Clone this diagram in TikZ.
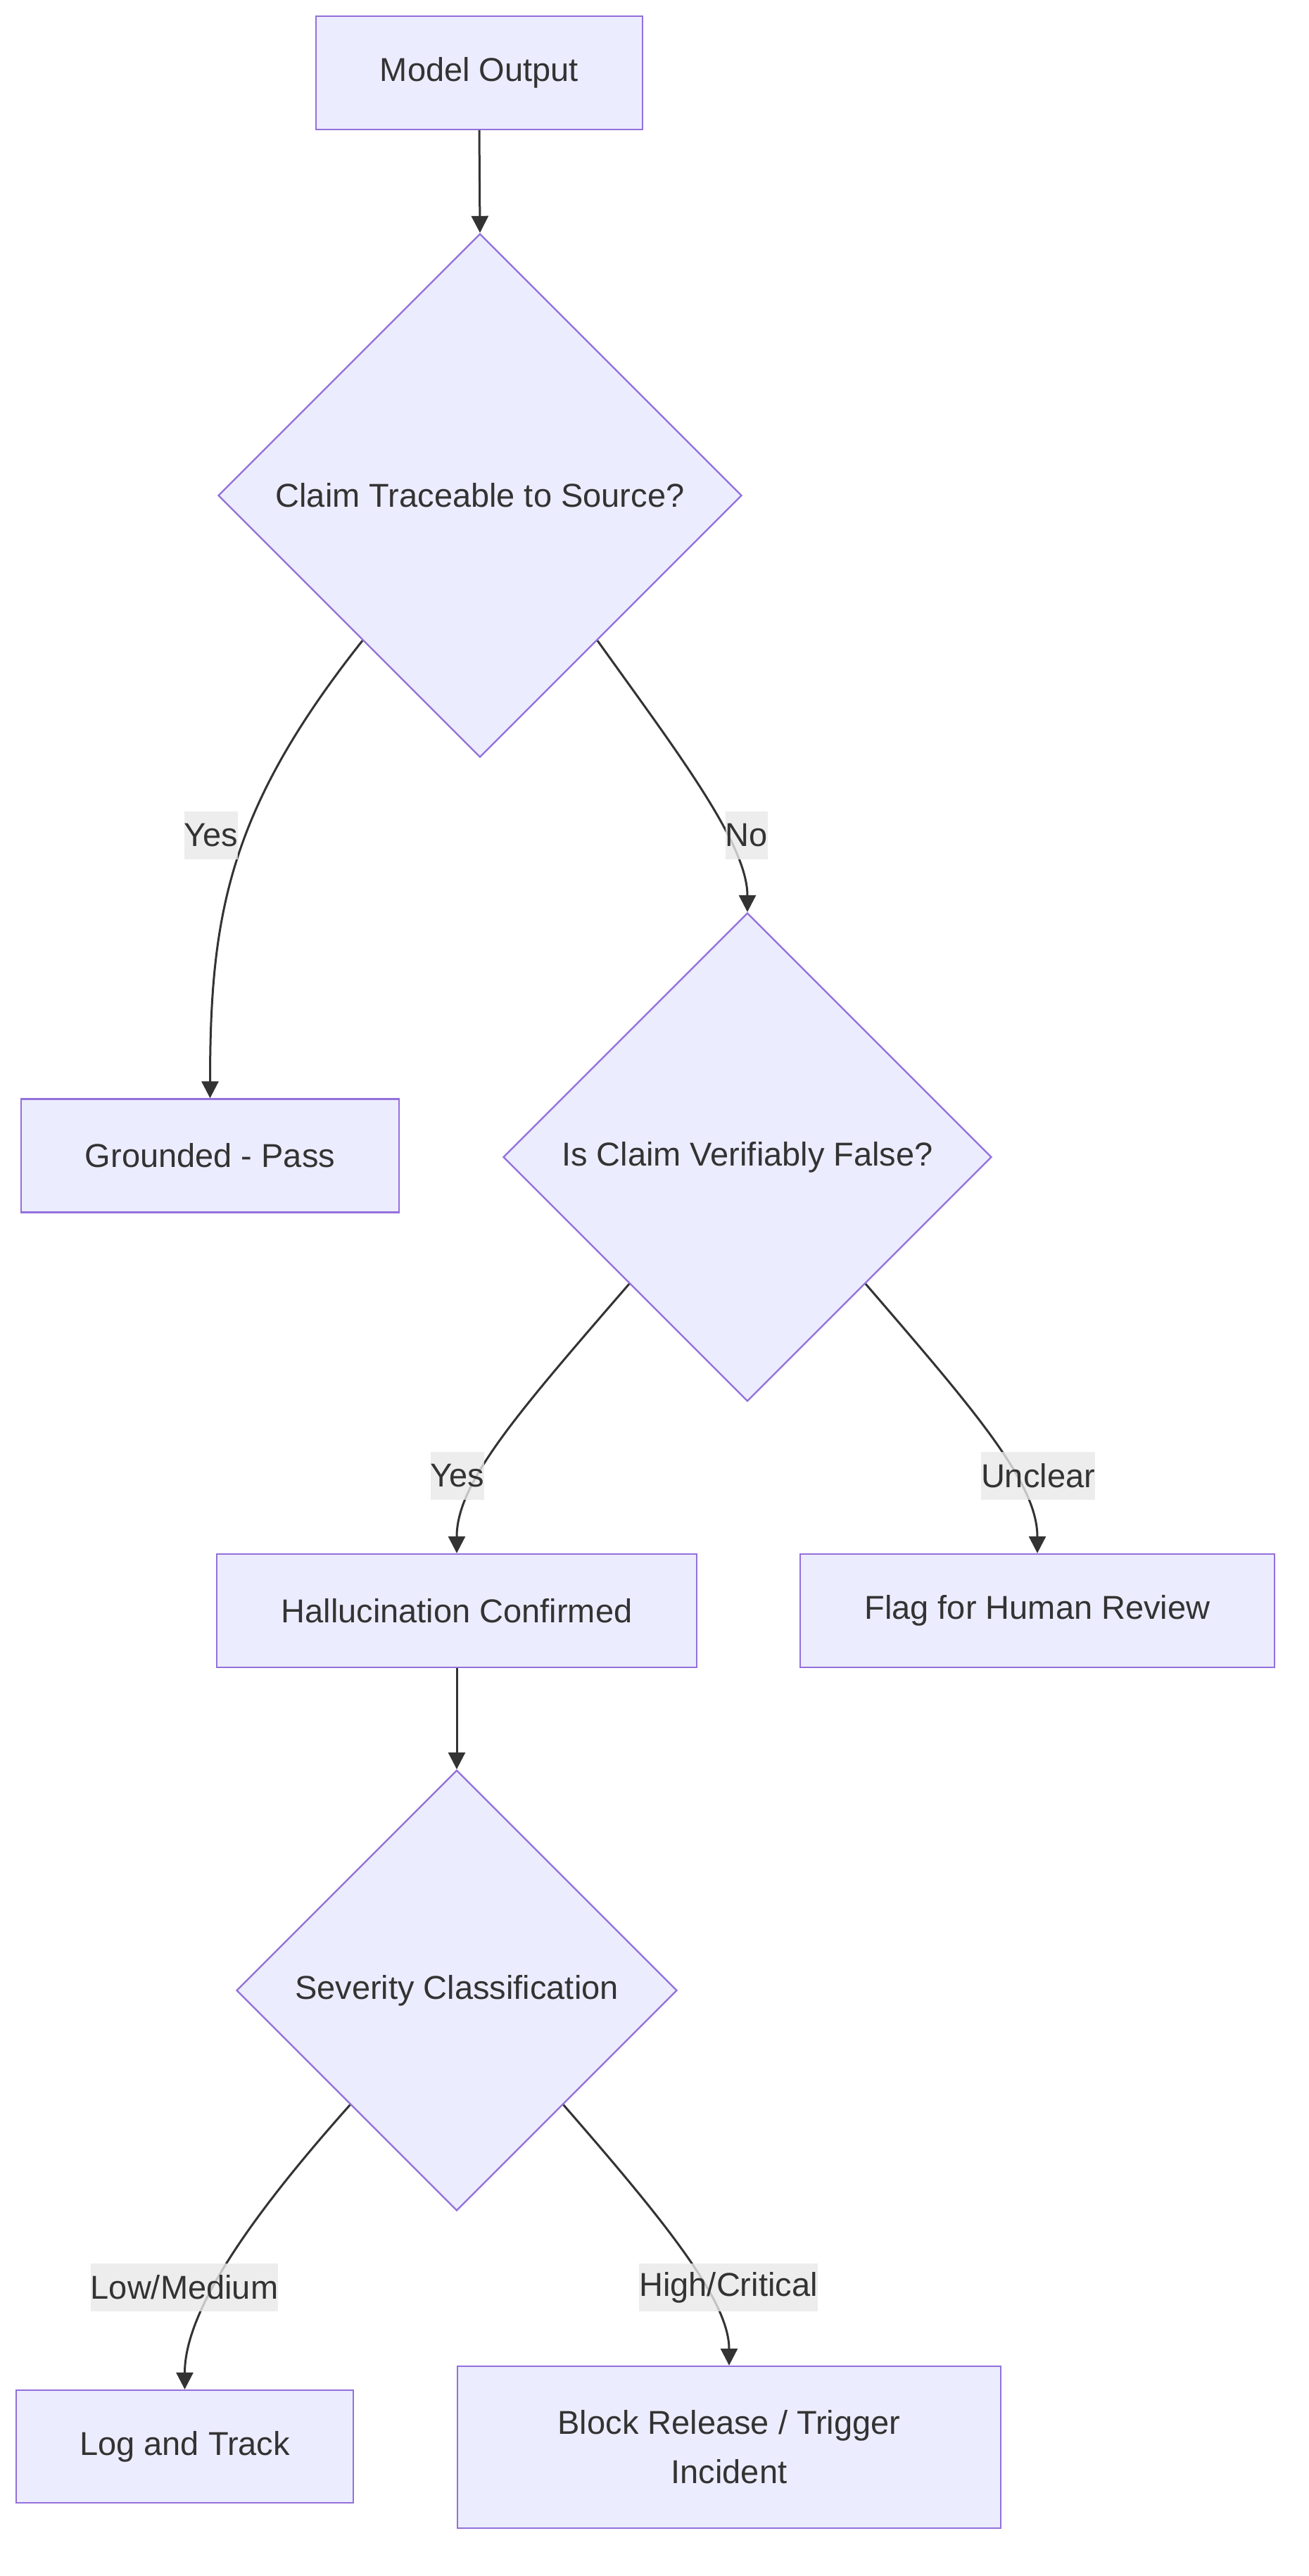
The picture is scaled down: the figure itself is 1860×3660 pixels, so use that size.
\documentclass[tikz,border=0pt]{standalone}
\usepackage{fontspec}
\setmainfont{Liberation Sans}
\usetikzlibrary{shapes.geometric,arrows.meta}
\definecolor{nodefill}{HTML}{ECECFF}
\definecolor{nodeline}{HTML}{9370DB}
\definecolor{ink}{HTML}{333333}
\definecolor{lblbg}{HTML}{E8E8E8}
\begin{document}
\begin{tikzpicture}[x=1pt,y=-1pt,
  font=\fontsize{47}{70}\selectfont, text=ink,
  box/.style={rectangle, draw=nodeline, fill=nodefill, line width=2.4pt, inner sep=0pt, align=center},
  decision/.style={diamond, aspect=1, draw=nodeline, fill=nodefill, line width=2.4pt, inner sep=0pt, minimum width=#1, minimum height=#1},
  edge/.style={draw=ink, line width=3pt, -{Triangle[length=24pt,width=24pt]}},
  lbl/.style={fill=lblbg, fill opacity=0.8, text opacity=1, inner xsep=0pt, inner ysep=0pt, minimum height=68pt}
]
\useasboundingbox (0,0) rectangle (1860,3660);

% nodes
\node[box, minimum width=464pt, minimum height=161pt] (out) at (681,103.5) {Model Output};
\node[decision=744pt] (d1) at (682,704) {Claim Traceable to Source?};
\node[box, minimum width=537pt, minimum height=161pt] (grounded) at (298.5,1642) {Grounded - Pass};
\node[decision=694pt] (d2) at (1062,1644) {Is Claim Verifiably False?};
\node[box, minimum width=682pt, minimum height=161pt] (halluc) at (649,2288.5) {Hallucination Confirmed};
\node[box, minimum width=674pt, minimum height=161pt] (flag) at (1474,2288.5) {Flag for Human Review};
\node[decision=626pt] (d3) at (649,2828) {Severity Classification};
\node[box, minimum width=479pt, minimum height=160pt] (log) at (262.5,3476) {Log and Track};
\node[box, minimum width=772pt, minimum height=230pt] (block) at (1036,3477) {Block Release / Trigger\\Incident};

% edges
\draw[edge] (out.south) -- (d1.north);
\draw[edge] (d1.231) .. controls +(-190,240) and +(0,-261) .. (grounded.north);
\draw[edge] (d1.-51.6) .. controls +(113,158) and +(0,-97) .. (d2.north);
\draw[edge] (d2.227.6) .. controls +(-160,185) and +(0,-100) .. (halluc.north);
\draw[edge] (d2.-47.6) .. controls +(155,180) and +(0,-100) .. (flag.north);
\draw[edge] (halluc.south) -- (d3.north);
\draw[edge] (d3.227.9) .. controls +(-165,185) and +(0,-100) .. (log.north);
\draw[edge] (d3.-47.9) .. controls +(150,172) and +(0,-90) .. (block.north);

% edge labels
\node[lbl] (l1) at (300,1187) {Yes};
\node[lbl] (l2) at (1061,1187) {No};
\node[lbl] (l3) at (650,2097) {Yes};
\node[lbl] (l4) at (1475,2097) {Unclear};
\node[lbl] (l5) at (262,3250) {Low/Medium};
\node[lbl] (l6) at (1035,3250) {High/Critical};
\end{tikzpicture}
\end{document}
